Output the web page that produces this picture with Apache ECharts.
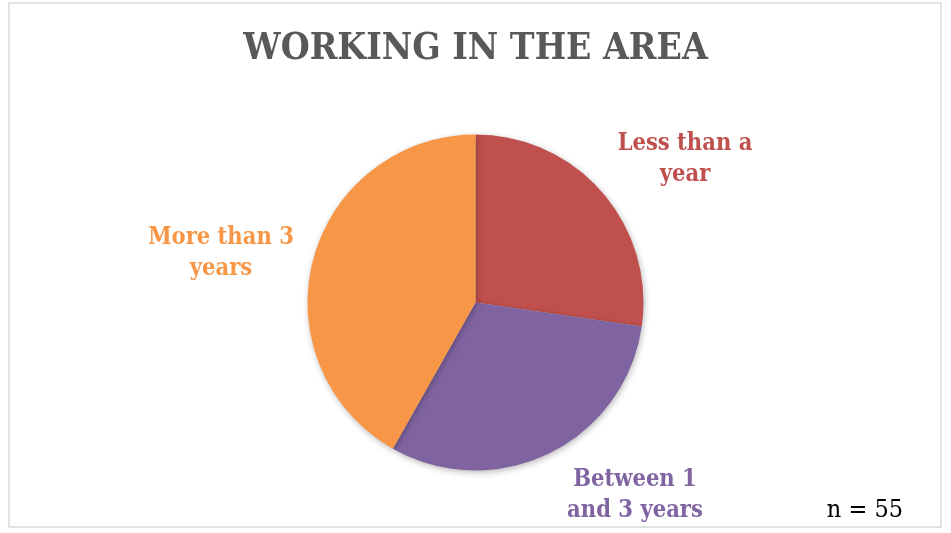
<!DOCTYPE html>
<html>
<head>
<meta charset="utf-8">
<script src="https://cdn.jsdelivr.net/npm/echarts@6/dist/echarts.min.js"></script>
<style>
  html, body { margin: 0; padding: 0; background: #ffffff; }
  #chart { width: 951px; height: 533px; }
</style>
</head>
<body>
<div id="chart"></div>
<script>
// Years spent working in the area (n = 55)
const categories = ['Less than a year', 'Between 1 and 3 years', 'More than 3 years'];
const labelTexts = ['Less than a\nyear', 'Between 1\nand 3 years', 'More than 3\nyears'];
const counts = [15, 17, 23];
const colors = ['#c0504d', '#8064a2', '#f79646'];
const sampleNote = 'n = 55';

// Where each slice's label sits (centre of the text block)
const labelSpots = [[685, 159], [635, 495], [221, 253]];

const serif = '"DejaVu Serif Condensed", "DejaVu Serif", serif';

const chart = echarts.init(document.getElementById('chart'), null, { renderer: 'canvas' });

chart.setOption({
  backgroundColor: '#ffffff',
  animation: false,
  title: {
    text: 'WORKING IN THE AREA',
    left: 'center',
    top: 26,
    textStyle: { fontFamily: serif, fontWeight: 'bold', fontSize: 37, color: '#595959' }
  },
  graphic: [
    {
      type: 'rect',
      shape: { x: 9, y: 3, width: 932, height: 524 },
      style: { fill: null, stroke: '#d9d9d9', lineWidth: 1.5 },
      silent: true
    },
    {
      type: 'text',
      right: 48,
      bottom: 10,
      style: { text: sampleNote, fontFamily: serif, fontSize: 25, fill: '#000000' }
    }
  ],
  series: [{
    type: 'pie',
    center: [475.5, 302.5],
    radius: 168,
    startAngle: 90,
    clockwise: true,
    avoidLabelOverlap: false,
    itemStyle: {
      borderWidth: 0,
      shadowBlur: 6,
      shadowColor: 'rgba(0,0,0,0.28)',
      shadowOffsetX: 1,
      shadowOffsetY: 2
    },
    emphasis: { disabled: true },
    label: {
      show: true,
      position: 'outside',
      formatter: p => labelTexts[p.dataIndex],
      fontFamily: serif,
      fontWeight: 'bold',
      fontSize: 23.5,
      lineHeight: 31,
      align: 'center'
    },
    labelLine: { show: false },
    labelLayout: p => ({
      x: labelSpots[p.dataIndex][0],
      y: labelSpots[p.dataIndex][1],
      align: 'center',
      verticalAlign: 'middle'
    }),
    data: categories.map((name, i) => ({
      name,
      value: counts[i],
      itemStyle: { color: colors[i] },
      label: { color: colors[i] }
    }))
  }]
});
</script>
</body>
</html>
